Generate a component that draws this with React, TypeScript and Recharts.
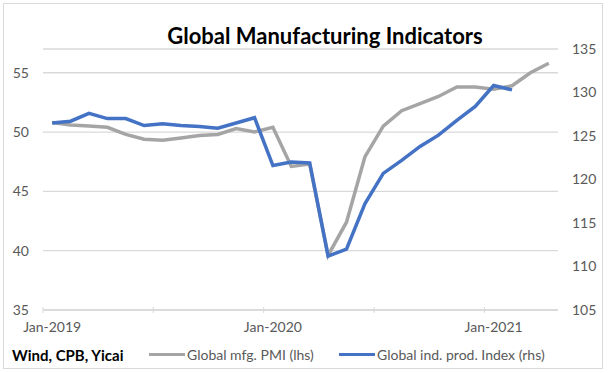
import React from 'react';
import { LineChart, Line, XAxis, YAxis, CartesianGrid } from 'recharts';

const months = [
  'Jan-2019', 'Feb-2019', 'Mar-2019', 'Apr-2019', 'May-2019', 'Jun-2019',
  'Jul-2019', 'Aug-2019', 'Sep-2019', 'Oct-2019', 'Nov-2019', 'Dec-2019',
  'Jan-2020', 'Feb-2020', 'Mar-2020', 'Apr-2020', 'May-2020', 'Jun-2020',
  'Jul-2020', 'Aug-2020', 'Sep-2020', 'Oct-2020', 'Nov-2020', 'Dec-2020',
  'Jan-2021', 'Feb-2021', 'Mar-2021', 'Apr-2021',
];

// Global mfg. PMI (lhs)
const pmi = [
  50.8, 50.6, 50.5, 50.4, 49.8, 49.4, 49.3, 49.5, 49.7, 49.8, 50.3, 50.0,
  50.4, 47.1, 47.3, 39.6, 42.4, 47.9, 50.5, 51.8, 52.4, 53.0, 53.8, 53.8,
  53.6, 53.9, 55.0, 55.8,
];

// Global ind. prod. Index (rhs)
const indProd = [
  126.5, 126.7, 127.6, 127.0, 127.0, 126.2, 126.4, 126.2, 126.1, 125.9, 126.5, 127.1,
  121.6, 122.0, 121.9, 111.2, 112.0, 117.2, 120.7, 122.2, 123.8, 125.1, 126.8, 128.4,
  130.8, 130.3, null, null,
];

const leftTicks = [35, 40, 45, 50, 55];
const rightTicks = [105, 110, 115, 120, 125, 130, 135];

const data = months.map((m, i) => ({ month: m, pmi: pmi[i], ip: indProd[i] }));

const W = 608;
const H = 373;
const PLOT_LEFT = 43;
const PLOT_RIGHT = 558;
const HALF_BAND = (PLOT_RIGHT - PLOT_LEFT) / months.length / 2;
const FONT = 'Lato, "Open Sans", sans-serif';

const MonthTick = (props: any) => {
  const { x, y, index, payload } = props;
  const i = index ?? payload?.index ?? 0;
  return (
    <g>
      {i % 6 === 0 && (
        <line x1={x - HALF_BAND} x2={x - HALF_BAND} y1={y - 3} y2={y + 3} stroke="#d9d9d9" strokeWidth={1} />
      )}
      {i % 12 === 0 && (
        <text x={x} y={y + 22} textAnchor="middle" fill="#595959" fontSize={14} fontFamily={FONT}>
          {payload.value}
        </text>
      )}
    </g>
  );
};

export default function App() {
  return (
    <div style={{ position: 'absolute', left: 0, top: 0, width: W, height: H, background: '#fff' }}>
      <div
        style={{
          position: 'absolute', left: 3, top: 3, width: 600, height: 366,
          border: '1px solid #d9d9d9', boxSizing: 'border-box',
        }}
      />
      <div
        style={{
          position: 'absolute', left: 0, width: 650, top: 22, textAlign: 'center',
          fontFamily: FONT, fontWeight: 700, fontSize: 22, color: '#000',
        }}
      >
        Global Manufacturing Indicators
      </div>
      <LineChart
        width={W}
        height={H}
        data={data}
        margin={{ top: 49, right: 0, bottom: 33, left: 0 }}
        style={{ position: 'absolute', left: 0, top: 0 }}
      >
        <CartesianGrid yAxisId="left" vertical={false} stroke="#d9d9d9" strokeWidth={1.3} />
        <XAxis
          dataKey="month"
          interval={0}
          height={30}
          padding={{ left: HALF_BAND, right: HALF_BAND }}
          axisLine={{ stroke: '#d9d9d9', strokeWidth: 1.3 }}
          tickLine={false}
          tickSize={0}
          tickMargin={0}
          tick={<MonthTick />}
        />
        <YAxis
          yAxisId="left"
          domain={[35, 57]}
          ticks={leftTicks}
          width={PLOT_LEFT}
          axisLine={false}
          tickLine={false}
          tickSize={0}
          tickMargin={14}
          tick={{ fill: '#595959', fontSize: 14, fontFamily: FONT }}
        />
        <YAxis
          yAxisId="right"
          orientation="right"
          domain={[105, 135]}
          ticks={rightTicks}
          width={W - PLOT_RIGHT}
          axisLine={false}
          tickLine={false}
          tickSize={0}
          tickMargin={14}
          tick={{ fill: '#595959', fontSize: 14, fontFamily: FONT, textAnchor: 'start' }}
        />
        <Line
          yAxisId="left"
          dataKey="pmi"
          stroke="#A5A5A5"
          strokeWidth={3.5}
          dot={false}
          activeDot={false}
          isAnimationActive={false}
        />
        <Line
          yAxisId="right"
          dataKey="ip"
          stroke="#4472C4"
          strokeWidth={3.5}
          dot={false}
          activeDot={false}
          isAnimationActive={false}
        />
      </LineChart>
      <div
        style={{
          position: 'absolute', left: 12, top: 346, fontFamily: FONT, fontSize: 15,
          fontWeight: 700, color: '#000', whiteSpace: 'nowrap',
        }}
      >
        Wind, CPB, Yicai
      </div>
      {[
        { label: 'Global mfg. PMI (lhs)', color: '#A5A5A5', left: 149 },
        { label: 'Global ind. prod. Index (rhs)', color: '#4472C4', left: 339 },
      ].map((item) => (
        <div
          key={item.label}
          style={{
            position: 'absolute', left: item.left, top: 346, display: 'flex', alignItems: 'center',
            fontFamily: FONT, fontSize: 14, color: '#595959', whiteSpace: 'nowrap',
          }}
        >
          <span style={{ display: 'inline-block', width: 36, height: 3.5, background: item.color, marginRight: 2 }} />
          {item.label}
        </div>
      ))}
    </div>
  );
}
